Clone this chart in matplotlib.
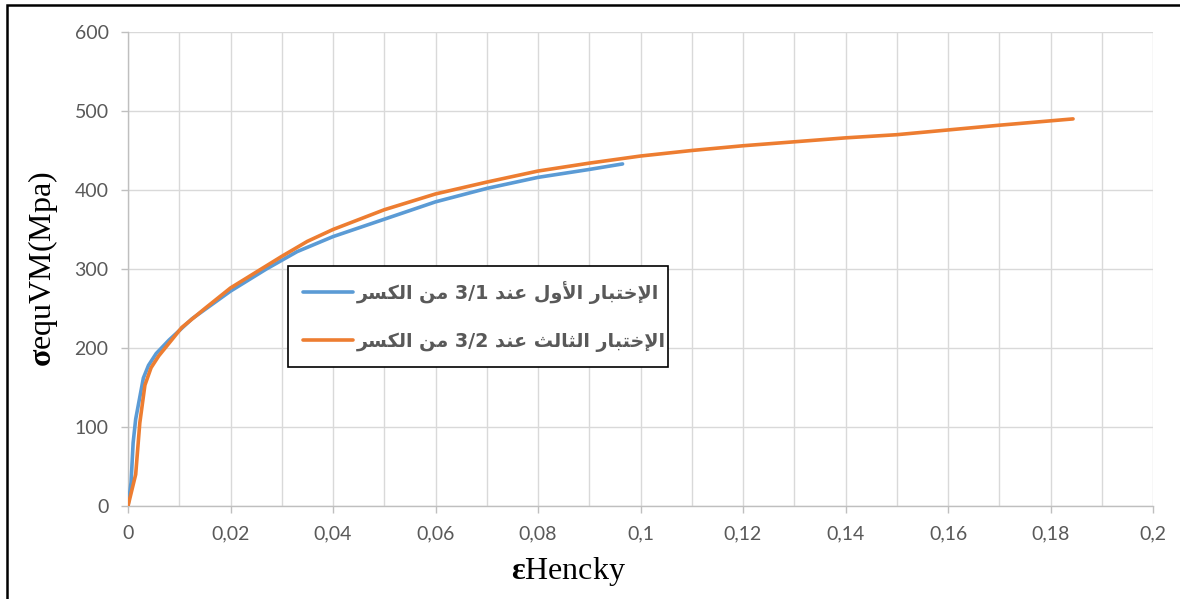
import matplotlib
matplotlib.use("Agg")
import matplotlib.pyplot as plt
from matplotlib.patches import Rectangle
from matplotlib.ticker import FixedLocator, MultipleLocator

# ---- data -------------------------------------------------------------
strain_test1 = [0, 0.0006, 0.001, 0.0015, 0.003, 0.004, 0.0055, 0.008, 0.0125,
                0.02, 0.027, 0.033, 0.04, 0.05, 0.06, 0.07, 0.08, 0.09, 0.0965]
stress_test1 = [0, 30, 80, 110, 162, 178, 193, 210, 237,
                272, 300, 322, 341, 363, 385, 402, 416, 426, 433]

strain_test3 = [0, 0.0015, 0.0023, 0.0033, 0.0045, 0.006, 0.0085, 0.0105, 0.015,
                0.02, 0.03, 0.035, 0.04, 0.05, 0.06, 0.07, 0.08, 0.09, 0.1,
                0.11, 0.12, 0.13, 0.14, 0.15, 0.16, 0.17, 0.1844]
stress_test3 = [0, 40, 105, 153, 175, 190, 210, 226, 250,
                276, 316, 335, 350, 375, 395, 410, 424, 434, 443,
                450, 456, 461, 466, 470, 476, 482, 490]

label_test1 = "الإختبار الأول عند 3/1 من الكسر"
label_test3 = "الإختبار الثالث عند 3/2 من الكسر"

x_ticks = [0, 0.02, 0.04, 0.06, 0.08, 0.1, 0.12, 0.14, 0.16, 0.18, 0.2]
x_tick_labels = ["0", "0,02", "0,04", "0,06", "0,08", "0,1", "0,12", "0,14",
                 "0,16", "0,18", "0,2"]
y_ticks = [0, 100, 200, 300, 400, 500, 600]
y_tick_labels = ["0", "100", "200", "300", "400", "500", "600"]

# ---- minimal Arabic shaping (contextual forms + RTL visual order) ------
_FORMS = {
    "\u0627": ("\uFE8D", "\uFE8E", None, None),
    "\u0623": ("\uFE83", "\uFE84", None, None),
    "\u0625": ("\uFE87", "\uFE88", None, None),
    "\u0628": ("\uFE8F", "\uFE90", "\uFE91", "\uFE92"),
    "\u062A": ("\uFE95", "\uFE96", "\uFE97", "\uFE98"),
    "\u062B": ("\uFE99", "\uFE9A", "\uFE9B", "\uFE9C"),
    "\u062E": ("\uFEA5", "\uFEA6", "\uFEA7", "\uFEA8"),
    "\u062F": ("\uFEA9", "\uFEAA", None, None),
    "\u0631": ("\uFEAD", "\uFEAE", None, None),
    "\u0633": ("\uFEB1", "\uFEB2", "\uFEB3", "\uFEB4"),
    "\u0639": ("\uFEC9", "\uFECA", "\uFECB", "\uFECC"),
    "\u0643": ("\uFED9", "\uFEDA", "\uFEDB", "\uFEDC"),
    "\u0644": ("\uFEDD", "\uFEDE", "\uFEDF", "\uFEE0"),
    "\u0645": ("\uFEE1", "\uFEE2", "\uFEE3", "\uFEE4"),
    "\u0646": ("\uFEE5", "\uFEE6", "\uFEE7", "\uFEE8"),
    "\u0648": ("\uFEED", "\uFEEE", None, None),
}
_LAM_ALEF = {"\u0627": ("\uFEFB", "\uFEFC"),
             "\u0623": ("\uFEF7", "\uFEF8"),
             "\u0625": ("\uFEF9", "\uFEFA")}


def _shape_word(word):
    # tokens: (iso, fin, ini, med)
    tokens = []
    i = 0
    while i < len(word):
        c = word[i]
        if c == "\u0644" and i + 1 < len(word) and word[i + 1] in _LAM_ALEF:
            iso, fin = _LAM_ALEF[word[i + 1]]
            tokens.append((iso, fin, None, None))
            i += 2
            continue
        tokens.append(_FORMS.get(c, (c, c, None, None)))
        i += 1
    out = []
    for k, t in enumerate(tokens):
        prev_join = k > 0 and tokens[k - 1][2] is not None
        next_join = k < len(tokens) - 1 and t[2] is not None
        if prev_join and next_join:
            out.append(t[3])
        elif prev_join:
            out.append(t[1])
        elif next_join:
            out.append(t[2])
        else:
            out.append(t[0])
    return "".join(reversed(out))


def arabic_display(text):
    words = text.split(" ")
    shaped = []
    for w in words:
        if any("\u0600" <= ch <= "\u06FF" for ch in w):
            shaped.append(_shape_word(w))
        else:
            shaped.append(w)
    return " ".join(reversed(shaped))


# ---- figure -----------------------------------------------------------
plt.rcParams["mathtext.fontset"] = "custom"
plt.rcParams["mathtext.rm"] = "Liberation Serif"
plt.rcParams["mathtext.bf"] = "Liberation Serif:bold"

W, H = 1180, 599
fig = plt.figure(figsize=(W / 100, H / 100), dpi=100)
ax = fig.add_axes([128 / W, 1 - 506 / H, (1153 - 128) / W, (506 - 32) / H])

blue = "#5B9BD5"
orange = "#ED7D31"
grid_c = "#D9D9D9"
text_c = "#595959"

ax.plot(strain_test1, stress_test1, color=blue, lw=2.6,
        solid_joinstyle="round", solid_capstyle="round",
        label=arabic_display(label_test1), zorder=3)
ax.plot(strain_test3, stress_test3, color=orange, lw=2.6,
        solid_joinstyle="round", solid_capstyle="round",
        label=arabic_display(label_test3), zorder=4)

ax.set_xlim(0, 0.2)
ax.set_ylim(0, 600)
ax.xaxis.set_major_locator(FixedLocator(x_ticks))
ax.set_xticklabels(x_tick_labels)
ax.xaxis.set_minor_locator(MultipleLocator(0.01))
ax.yaxis.set_major_locator(FixedLocator(y_ticks))
ax.set_yticklabels(y_tick_labels)

ax.grid(True, which="both", axis="x", color=grid_c, lw=1.0, zorder=0)
ax.grid(True, which="major", axis="y", color=grid_c, lw=1.0, zorder=0)
ax.set_axisbelow(True)

for side in ("top", "right"):
    ax.spines[side].set_visible(False)
for side in ("left", "bottom"):
    ax.spines[side].set_color("#BFBFBF")
    ax.spines[side].set_linewidth(1.0)

ax.tick_params(axis="both", which="major", length=5, width=1.0,
               color="#BFBFBF", labelcolor=text_c, labelsize=14, pad=9)
ax.tick_params(axis="both", which="minor", length=0)
for lbl in ax.get_xticklabels() + ax.get_yticklabels():
    lbl.set_fontfamily("Lato")

ax.set_xlabel(r"$\mathbf{ε}$Hencky", fontsize=23, family="Liberation Serif",
              color="black")
ax.xaxis.set_label_coords(0.43, -0.103)
ax.set_ylabel(r"$\mathbf{σ}$equVM(Mpa)", fontsize=23, family="Liberation Serif",
              color="black")
ax.yaxis.set_label_coords(-0.066, 0.5)

leg = ax.legend(loc="lower left", bbox_to_anchor=(288 / W, 1 - 367 / H,
                                                  380 / W, 99 / H),
                bbox_transform=fig.transFigure, mode="expand",
                prop={"family": "DejaVu Sans", "weight": "bold", "size": 13.8},
                handlelength=2.6, handletextpad=0.2, labelspacing=1.45,
                borderpad=0.8, borderaxespad=0, fancybox=False,
                framealpha=1, edgecolor="black", labelcolor=text_c)
leg.get_frame().set_linewidth(1.2)

# outer chart frame
top = 1 - 4.5 / H
fig.add_artist(Rectangle((6.5 / W, -0.2), 1.2, top + 0.2,
                         transform=fig.transFigure, fill=False,
                         ec="black", lw=1.8))

fig.savefig("out.png", dpi=100)
